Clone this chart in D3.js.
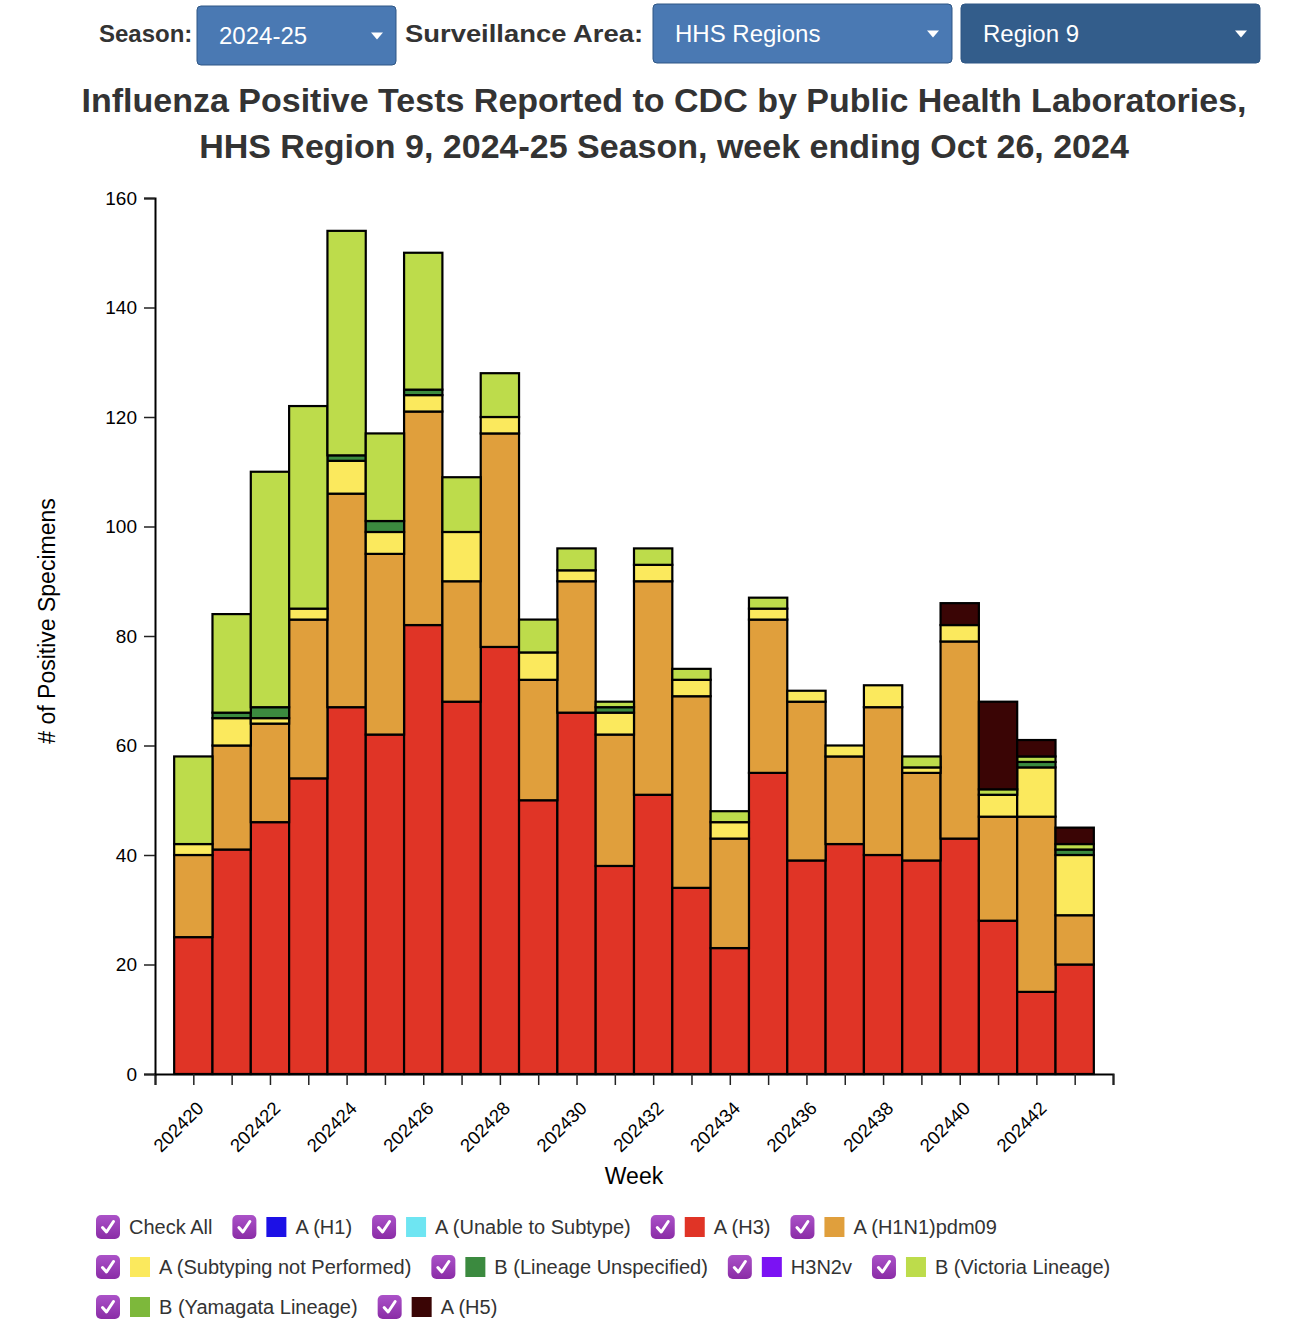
<!DOCTYPE html>
<html>
<head>
<meta charset="utf-8">
<script src="https://cdn.jsdelivr.net/npm/d3@7"></script>
<style>
  body { margin: 0; background: #fff; }
  svg text { font-family: "Helvetica Neue", Helvetica, Arial, "Liberation Sans", sans-serif; }
</style>
</head>
<body>
<svg id="chart" width="1310" height="1334"></svg>
<script>
// weeks shown on the x axis
const weeks = ["202420","202421","202422","202423","202424","202425","202426","202427",
               "202428","202429","202430","202431","202432","202433","202434","202435",
               "202436","202437","202438","202439","202440","202441","202442","202443"];
const tickLabels = ["202420","202422","202424","202426","202428","202430",
                    "202432","202434","202436","202438","202440","202442"];
const yTicks = [0, 20, 40, 60, 80, 100, 120, 140, 160];

// counts per virus type, one value per week
const aH1       = [0,0,0,0,0,0,0,0,0,0,0,0,0,0,0,0,0,0,0,0,0,0,0,0];
const aUnable   = [0,0,0,0,0,0,0,0,0,0,0,0,0,0,0,0,0,0,0,0,0,0,0,0];
const aH3       = [25,41,46,54,67,62,82,68,78,50,66,38,51,34,23,55,39,42,40,39,43,28,15,20];
const aPdm09    = [15,19,18,29,39,33,39,22,39,22,24,24,39,35,20,28,29,16,27,16,36,19,32,9];
const aNotSub   = [2,5,1,2,6,4,3,9,3,5,2,4,3,3,3,2,2,2,4,1,3,4,9,11];
const bUnspec   = [0,1,2,0,1,2,1,0,0,0,0,1,0,0,0,0,0,0,0,0,0,0,1,1];
const h3n2v     = [0,0,0,0,0,0,0,0,0,0,0,0,0,0,0,0,0,0,0,0,0,0,0,0];
const bVictoria = [16,18,43,37,41,16,25,10,8,6,4,1,3,2,2,2,0,0,0,2,0,1,1,1];
const bYamagata = [0,0,0,0,0,0,0,0,0,0,0,0,0,0,0,0,0,0,0,0,0,0,0,0];
const aH5       = [0,0,0,0,0,0,0,0,0,0,0,0,0,0,0,0,0,0,0,0,4,16,3,3];

const series = [
    { key: "A (H1)", color: "#1c10e6", values: aH1 },
    { key: "A (Unable to Subtype)", color: "#6ee5f2", values: aUnable },
    { key: "A (H3)", color: "#e03426", values: aH3 },
    { key: "A (H1N1)pdm09", color: "#e09f3c", values: aPdm09 },
    { key: "A (Subtyping not Performed)", color: "#fbe95d", values: aNotSub },
    { key: "B (Lineage Unspecified)", color: "#3b8a3f", values: bUnspec },
    { key: "H3N2v", color: "#7b12f3", values: h3n2v },
    { key: "B (Victoria Lineage)", color: "#bddc4b", values: bVictoria },
    { key: "B (Yamagata Lineage)", color: "#7db83b", values: bYamagata },
    { key: "A (H5)", color: "#3a0505", values: aH5 }
];

const svg = d3.select("#chart");

// ---- dropdown controls at the top ----
const controls = svg.append("g");

function dropdown(x, y, w, h, fill, label) {
    const g = controls.append("g").attr("transform", `translate(${x},${y})`);
    g.append("rect").attr("width", w).attr("height", h).attr("rx", 4)
        .attr("fill", fill).attr("stroke", "#2f5785").attr("stroke-width", 1);
    g.append("text").attr("x", 22).attr("y", h / 2 + 8)
        .attr("fill", "#fff").style("font-size", "24px").text(label);
    g.append("path")
        .attr("d", `M${w - 25},${h / 2 - 3}l12,0l-6,7z`)
        .attr("fill", "#fff");
}

controls.append("text").attr("x", 99).attr("y", 42)
    .style("font-size", "24px").style("font-weight", "bold").attr("fill", "#333")
    .text("Season:");
dropdown(197, 6, 199, 59, "#4a79b3", "2024-25");
controls.append("text").attr("x", 405).attr("y", 42)
    .style("font-size", "24px").style("font-weight", "bold").attr("fill", "#333")
    .attr("textLength", 238).attr("lengthAdjust", "spacingAndGlyphs")
    .text("Surveillance Area:");
dropdown(653, 4, 299, 59, "#4a79b3", "HHS Regions");
dropdown(961, 4, 299, 59, "#335d8b", "Region 9");

// ---- title ----
const title = svg.append("g").attr("fill", "#333")
    .style("font-size", "34px").style("font-weight", "bold").attr("text-anchor", "middle");
title.append("text").attr("x", 664).attr("y", 112)
    .text("Influenza Positive Tests Reported to CDC by Public Health Laboratories,");
title.append("text").attr("x", 664).attr("y", 158)
    .text("HHS Region 9, 2024-25 Season, week ending Oct 26, 2024");

// ---- scales ----
const x = d3.scaleLinear().domain([-1, weeks.length]).range([155, 1113]);
const y = d3.scaleLinear().domain([0, 160]).range([1074, 198]);
const barW = x(1) - x(0);

const table = weeks.map((w, i) => {
    const row = { week: w, i: i };
    series.forEach(s => row[s.key] = s.values[i]);
    return row;
});
const stacked = d3.stack().keys(series.map(s => s.key))(table);

// ---- bars ----
const bars = svg.append("g");
stacked.forEach((layer, li) => {
    bars.append("g")
        .attr("fill", series[li].color)
        .selectAll("rect")
        .data(layer.filter(d => d[1] - d[0] > 0))
        .join("rect")
        .attr("x", d => x(d.data.i) - barW / 2)
        .attr("y", d => y(d[1]))
        .attr("width", barW)
        .attr("height", d => y(d[0]) - y(d[1]))
        .attr("stroke", "#000")
        .attr("stroke-width", 2.2);
});

// ---- axes ----
const gx = svg.append("g")
    .attr("transform", "translate(0,1074)")
    .call(d3.axisBottom(x)
        .tickValues(d3.range(-1, weeks.length + 1))
        .tickSize(11)
        .tickFormat(i => tickLabels.includes(weeks[i]) ? weeks[i] : ""));
gx.select(".domain").attr("stroke", "#000").attr("stroke-width", 2);
gx.selectAll(".tick line").attr("stroke", "#222").attr("stroke-width", 1.5);
gx.selectAll(".tick text")
    .attr("x", 0).attr("y", 0).attr("dy", 0)
    .attr("text-anchor", "end")
    .attr("transform", "translate(11,35.5) rotate(-45)")
    .attr("fill", "#000")
    .style("font-size", "18.5px");

const gy = svg.append("g")
    .attr("transform", "translate(155,0)")
    .call(d3.axisLeft(y).tickValues(yTicks).tickSize(11).tickPadding(7));
gy.select(".domain").attr("stroke", "#000").attr("stroke-width", 2);
gy.selectAll(".tick line").attr("stroke", "#222").attr("stroke-width", 1.5);
gy.selectAll(".tick text").attr("fill", "#000").style("font-size", "19px");

svg.append("text")
    .attr("transform", "translate(55,621) rotate(-90)")
    .attr("text-anchor", "middle")
    .style("font-size", "23px")
    .text("# of Positive Specimens");

svg.append("text")
    .attr("x", 634).attr("y", 1184)
    .attr("text-anchor", "middle")
    .style("font-size", "23px")
    .text("Week");

// ---- legend with checkboxes ----
const defs = svg.append("defs");
const grad = defs.append("linearGradient").attr("id", "cb").attr("x1", 0).attr("y1", 0).attr("x2", 0).attr("y2", 1);
grad.append("stop").attr("offset", "0%").attr("stop-color", "#ab52c8");
grad.append("stop").attr("offset", "100%").attr("stop-color", "#8a2ca6");

const legendItems = [{ key: "Check All" }].concat(series);
const legend = svg.append("g");
let lx = 96, ly = 1215;
legendItems.forEach(item => {
    const g = legend.append("g");
    g.append("rect").attr("width", 24).attr("height", 24).attr("rx", 5).attr("fill", "url(#cb)");
    g.append("path")
        .attr("d", "M6.5,12.5L10.5,17L17.5,6.5")
        .attr("fill", "none").attr("stroke", "#fff").attr("stroke-width", 3)
        .attr("stroke-linecap", "round").attr("stroke-linejoin", "round");
    let tx = 33;
    if (item.color) {
        g.append("rect").attr("x", 34).attr("y", 2).attr("width", 20).attr("height", 20).attr("fill", item.color);
        tx = 63;
    }
    const t = g.append("text").attr("x", tx).attr("y", 19)
        .attr("fill", "#333").style("font-size", "20px").text(item.key);
    const w = tx + t.node().getComputedTextLength();
    if (lx + w > 1250) { lx = 96; ly += 40; }
    g.attr("transform", `translate(${lx},${ly})`);
    lx += w + 20;
});
</script>
</body>
</html>
